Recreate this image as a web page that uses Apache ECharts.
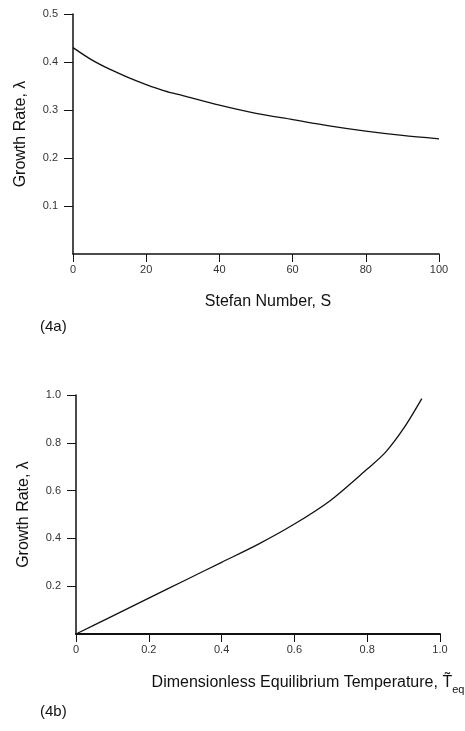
<!DOCTYPE html>
<html>
<head>
<meta charset="utf-8">
<script src="https://cdn.jsdelivr.net/npm/echarts@6/dist/echarts.min.js"></script>
<style>
  html, body { margin: 0; padding: 0; background: #fff; }
  #chart { width: 465px; height: 731px; }
</style>
</head>
<body>
<div id="chart"></div>
<script>
// (4a) growth rate vs Stefan number
const stefanS = [0, 5, 10, 15, 20, 25, 30, 40, 50, 60, 70, 80, 90, 100]
const lambdaA = [0.43, 0.405, 0.385, 0.368, 0.353, 0.34, 0.33, 0.31, 0.293, 0.28, 0.267, 0.256, 0.247, 0.24]
const ticksA = [0.1, 0.2, 0.3, 0.4, 0.5]

// (4b) growth rate vs dimensionless equilibrium temperature
const tempEq = [0, 0.1, 0.2, 0.3, 0.4, 0.5, 0.6, 0.7, 0.8, 0.85, 0.9, 0.95]
const lambdaB = [0, 0.075, 0.15, 0.225, 0.3, 0.375, 0.46, 0.56, 0.69, 0.76, 0.86, 0.985]
const ticksB = [0.2, 0.4, 0.6, 0.8, 1.0]

const FONT = "Liberation Sans"
const INK = "#111"

const chart = echarts.init(document.getElementById("chart"))

function xAxisBase(idx, max, interval, fmt) {
  return {
    type: "value",
    gridIndex: idx,
    min: 0,
    max: max,
    interval: interval,
    splitLine: { show: false },
    axisLine: { onZero: false, lineStyle: { color: INK, width: 1.5 } },
    axisTick: { inside: false, length: 8, lineStyle: { color: INK } },
    axisLabel: { color: "#333", fontSize: 11, fontFamily: FONT, margin: 10, formatter: fmt }
  }
}

function yAxisBase(idx, max, interval, ticks) {
  return {
    type: "value",
    gridIndex: idx,
    min: 0,
    max: max,
    interval: interval,
    splitLine: { show: false },
    axisLine: { show: true, lineStyle: { color: INK, width: 1.5 } },
    axisTick: { length: 9, customValues: ticks, lineStyle: { color: INK } },
    axisLabel: {
      color: "#333", fontSize: 11, fontFamily: FONT, margin: 15,
      formatter: v => (v === 0 ? "" : v.toFixed(1))
    },
    name: "Growth Rate, \u03bb",
    nameLocation: "middle",
    nameGap: 44,
    nameTextStyle: { color: INK, fontSize: 16, fontFamily: FONT }
  }
}

const xa = xAxisBase(0, 100, 20, v => String(v))
xa.name = "Stefan Number, S"
xa.nameLocation = "middle"
xa.nameGap = 40
xa.nameTextStyle = { color: INK, fontSize: 16, fontFamily: FONT, padding: [0, 0, 0, 24] }

const xb = xAxisBase(1, 1, 0.2, v => (v === 0 ? "0" : v.toFixed(1)))
xb.axisLine.lineStyle.width = 2
xb.name = "Dimensionless Equilibrium Temperature, {t|T\u0303}{s|eq}"
xb.nameLocation = "middle"
xb.nameGap = 36
xb.nameTextStyle = {
  color: INK, fontSize: 16, fontFamily: FONT, padding: [0, 0, 0, 100],
  rich: {
    t: { color: INK, fontSize: 16, fontFamily: FONT },
    s: { color: INK, fontSize: 11, fontFamily: FONT, padding: [14, 0, 0, 0] }
  }
}

chart.setOption({
  animation: false,
  backgroundColor: "#fff",
  grid: [
    { left: 73, right: 26, top: 14, height: 240, outerBoundsMode: "none" },
    { left: 76, right: 25, top: 395, height: 239, outerBoundsMode: "none" }
  ],
  xAxis: [xa, xb],
  yAxis: [
    yAxisBase(0, 0.5, 0.1, ticksA),
    yAxisBase(1, 1, 0.2, ticksB)
  ],
  series: [
    {
      type: "line",
      xAxisIndex: 0,
      yAxisIndex: 0,
      data: stefanS.map((s, i) => [s, lambdaA[i]]),
      smooth: 0.3,
      showSymbol: false,
      lineStyle: { color: INK, width: 1.3 }
    },
    {
      type: "line",
      xAxisIndex: 1,
      yAxisIndex: 1,
      data: tempEq.map((t, i) => [t, lambdaB[i]]),
      smooth: 0.3,
      showSymbol: false,
      lineStyle: { color: INK, width: 1.3 }
    }
  ],
  graphic: [
    { type: "text", left: 40, top: 319, style: { text: "(4a)", fill: INK, fontSize: 15, fontFamily: FONT } },
    { type: "text", left: 40, top: 704, style: { text: "(4b)", fill: INK, fontSize: 15, fontFamily: FONT } }
  ]
})
</script>
</body>
</html>
